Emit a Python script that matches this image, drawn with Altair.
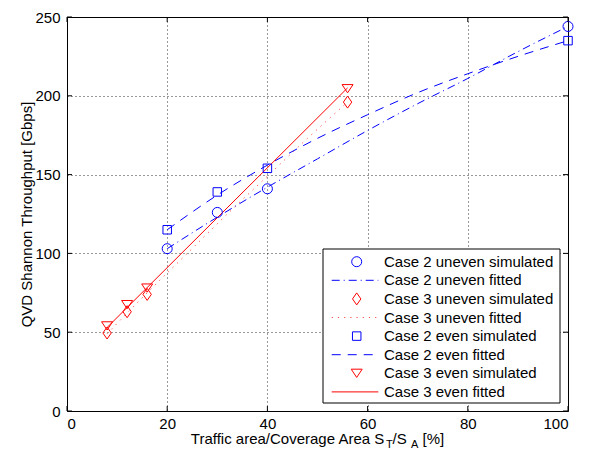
import altair as alt
import pandas as pd

# ---------------- data ----------------
c2u_sim_x = [20, 30, 40, 100]
c2u_sim_y = [103, 126, 141, 244]
c2u_fit_x = [20, 30, 40, 50, 60, 70, 80, 90, 100]
c2u_fit_y = [103, 123, 142, 160, 178, 195, 211, 228, 244]

c3u_sim_x = [8, 12, 16, 56]
c3u_sim_y = [49.5, 63, 74, 196]
c3u_fit_x = [8, 16, 24, 32, 40, 48, 56]
c3u_fit_y = [49, 75, 100, 125, 149, 173, 196]

c2e_sim_x = [20, 30, 40, 100]
c2e_sim_y = [115, 139, 154, 235]
c2e_fit_x = [20, 30, 40, 50, 60, 70, 80, 90, 100]
c2e_fit_y = [115, 137, 156, 173, 188, 202, 214, 225, 235]

c3e_sim_x = [8, 12, 16, 56]
c3e_sim_y = [54, 67.5, 78, 204.5]
c3e_fit_x = [8, 56]
c3e_fit_y = [53, 205]

legend_labels = [
    "Case 2 uneven simulated",
    "Case 2 uneven fitted",
    "Case 3 uneven simulated",
    "Case 3 uneven fitted",
    "Case 2 even simulated",
    "Case 2 even fitted",
    "Case 3 even simulated",
    "Case 3 even fitted",
]
x_ticks = [0, 20, 40, 60, 80, 100]
y_ticks = [0, 50, 100, 150, 200, 250]

y_title = "QVD Shannon Throughput [Gbps]"
x_title_parts = ["Traffic area/Coverage Area S", "T", "/S", "A", "[%]"]

# ---------------- styling ----------------
W, H = 501, 394
FONT = "Liberation Sans"
FS = 15
BLUE = "#0000ff"
RED = "#ff0000"
DIAMOND = "M0,-1L0.7,0L0,1L-0.7,0Z"
TRI_DOWN = "M-1,-0.75L1,-0.75L0,0.75Z"

xs = alt.Scale(domain=[0, 100], nice=False, zero=False)
ys = alt.Scale(domain=[0, 250], nice=False, zero=False)

x_axis = alt.Axis(values=x_ticks, grid=True, gridDash=[1, 3], gridColor="#000000",
                  gridOpacity=0.8, domain=False, ticks=False, labelFont=FONT,
                  labelFontSize=FS, labelColor="#000000", labelPadding=5, title=None)
y_axis = alt.Axis(values=y_ticks, grid=True, gridDash=[1, 3], gridColor="#000000",
                  gridOpacity=0.8, domain=False, ticks=False, labelFont=FONT,
                  labelFontSize=FS, labelColor="#000000", labelPadding=7,
                  title=y_title, titleFont=FONT, titleFontSize=FS,
                  titleFontWeight="normal", titleColor="#000000", titlePadding=0)

X = alt.X("x:Q", scale=xs, axis=x_axis)
Y = alt.Y("y:Q", scale=ys, axis=y_axis)


def df(xv, yv):
    return pd.DataFrame({"x": xv, "y": yv})


def line(xv, yv, color, dash=None, opacity=1.0):
    kw = dict(color=color, strokeWidth=1, interpolate="monotone", opacity=opacity)
    if dash:
        kw["strokeDash"] = dash
    return alt.Chart(df(xv, yv)).mark_line(**kw).encode(x=X, y=Y)


def pts(xv, yv, color, shape, size):
    return alt.Chart(df(xv, yv)).mark_point(shape=shape, size=size, filled=False,
                                            color=color, strokeWidth=1, opacity=1).encode(x=X, y=Y)


DASHDOT = [8, 4, 1, 4]
DASHED = [9, 7]
DOTTED = [1.2, 5]

layers = [
    line(c2u_fit_x, c2u_fit_y, BLUE, DASHDOT),
    line(c3u_fit_x, c3u_fit_y, RED, DOTTED, 0.7),
    line(c2e_fit_x, c2e_fit_y, BLUE, DASHED),
    line(c3e_fit_x, c3e_fit_y, RED),
    pts(c2u_sim_x, c2u_sim_y, BLUE, "circle", 100),
    pts(c3u_sim_x, c3u_sim_y, RED, DIAMOND, 144),
    pts(c2e_sim_x, c2e_sim_y, BLUE, "square", 72),
    pts(c3e_sim_x, c3e_sim_y, RED, TRI_DOWN, 121),
]

# inward ticks on all four sides (MATLAB box style)
TL = 5
xt = pd.DataFrame({"x": x_ticks})
yt = pd.DataFrame({"y": y_ticks})
layers += [
    alt.Chart(xt).mark_rule(color="#000000", strokeWidth=1).encode(x=X, y=alt.value(H), y2=alt.value(H - TL)),
    alt.Chart(xt).mark_rule(color="#000000", strokeWidth=1).encode(x=X, y=alt.value(0), y2=alt.value(TL)),
    alt.Chart(yt).mark_rule(color="#000000", strokeWidth=1).encode(y=Y, x=alt.value(0), x2=alt.value(TL)),
    alt.Chart(yt).mark_rule(color="#000000", strokeWidth=1).encode(y=Y, x=alt.value(W), x2=alt.value(W - TL)),
]

# x-axis title with subscripts
one = pd.DataFrame({"a": [0]})
x0 = W / 2 - 126.7
tb = H + 33
layers += [
    alt.Chart(one).mark_text(text=x_title_parts[0], font=FONT, fontSize=FS, align="left",
                             baseline="alphabetic", color="#000000").encode(x=alt.value(x0), y=alt.value(tb)),
    alt.Chart(one).mark_text(text=x_title_parts[1], font=FONT, fontSize=11, align="left",
                             baseline="alphabetic", color="#000000").encode(x=alt.value(x0 + 195.1), y=alt.value(tb + 4)),
    alt.Chart(one).mark_text(text=x_title_parts[2], font=FONT, fontSize=FS, align="left",
                             baseline="alphabetic", color="#000000").encode(x=alt.value(x0 + 201.8), y=alt.value(tb)),
    alt.Chart(one).mark_text(text=x_title_parts[3], font=FONT, fontSize=11, align="left",
                             baseline="alphabetic", color="#000000").encode(x=alt.value(x0 + 220.2), y=alt.value(tb + 4)),
    alt.Chart(one).mark_text(text=x_title_parts[4], font=FONT, fontSize=FS, align="left",
                             baseline="alphabetic", color="#000000").encode(x=alt.value(x0 + 231.7), y=alt.value(tb)),
]

# legend box
LX0, LX1, LY0, LY1 = 256, 493, 232, 386
layers.append(alt.Chart(one).mark_rect(fill="#ffffff", stroke="#000000", strokeWidth=1).encode(
    x=alt.value(LX0), x2=alt.value(LX1), y=alt.value(LY0), y2=alt.value(LY1)))

row0, dy = 244.7, 18.6
sym_x, l0, l1, txt_x = 289.7, 264.7, 311.3, 317
styles = [
    ("pt", BLUE, "circle", 100),
    ("ln", BLUE, DASHDOT, 1.0),
    ("pt", RED, DIAMOND, 144),
    ("ln", RED, DOTTED, 0.7),
    ("pt", BLUE, "square", 72),
    ("ln", BLUE, DASHED, 1.0),
    ("pt", RED, TRI_DOWN, 121),
    ("ln", RED, None, 1.0),
]
for i, (lab, st) in enumerate(zip(legend_labels, styles)):
    yy = row0 + dy * i
    if st[0] == "pt":
        layers.append(alt.Chart(one).mark_point(shape=st[2], size=st[3], filled=False, color=st[1],
                                                strokeWidth=1, opacity=1).encode(
            x=alt.value(sym_x), y=alt.value(yy)))
    else:
        kw = dict(color=st[1], strokeWidth=1, opacity=st[3])
        if st[2]:
            kw["strokeDash"] = st[2]
        layers.append(alt.Chart(one).mark_rule(**kw).encode(
            x=alt.value(l0), x2=alt.value(l1), y=alt.value(yy)))
    layers.append(alt.Chart(one).mark_text(text=lab, font=FONT, fontSize=FS, align="left",
                                           baseline="middle", color="#000000").encode(
        x=alt.value(txt_x), y=alt.value(yy)))

chart = alt.layer(*layers).properties(
    width=W, height=H,
    autosize=alt.AutoSizeParams(type="none"),
    padding={"left": 59, "top": 9, "right": 15, "bottom": 41},
    background="#ffffff",
).configure_view(stroke="#000000", strokeWidth=1)

chart.save("out.html", embed_options={"renderer": "svg", "actions": False})
